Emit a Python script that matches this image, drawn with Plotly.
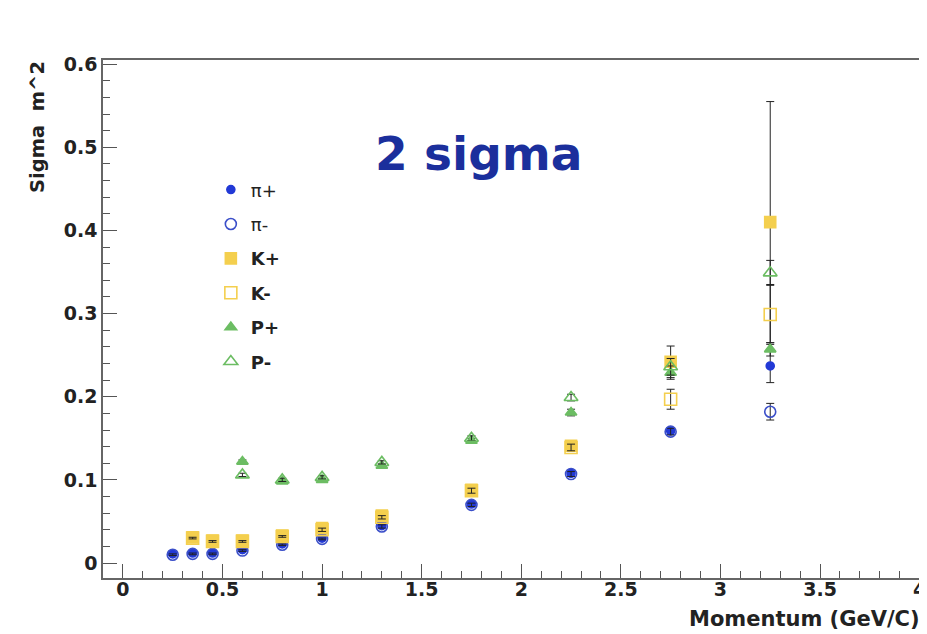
import plotly.graph_objects as go

# momentum bins (GeV/C)
p_pi = [0.25, 0.35, 0.45, 0.6, 0.8, 1.0, 1.3, 1.75, 2.25, 2.75, 3.25]
p_k = [0.35, 0.45, 0.6, 0.8, 1.0, 1.3, 1.75, 2.25, 2.75, 3.25]
p_p = [0.6, 0.8, 1.0, 1.3, 1.75, 2.25, 2.75, 3.25]

pi_plus = [0.011, 0.012, 0.012, 0.016, 0.023, 0.030, 0.045, 0.071, 0.108, 0.159, 0.237]
pi_plus_err = [0.001, 0.001, 0.001, 0.001, 0.001, 0.001, 0.002, 0.002, 0.003, 0.004, 0.020]
pi_minus = [0.010, 0.011, 0.011, 0.015, 0.022, 0.029, 0.044, 0.070, 0.107, 0.158, 0.182]
pi_minus_err = [0.001, 0.001, 0.001, 0.001, 0.001, 0.001, 0.002, 0.002, 0.003, 0.004, 0.010]

k_plus = [0.031, 0.027, 0.027, 0.033, 0.042, 0.057, 0.088, 0.141, 0.242, 0.410]
k_plus_err = [0.001, 0.001, 0.001, 0.001, 0.002, 0.002, 0.003, 0.004, 0.019, 0.145]
k_minus = [0.030, 0.026, 0.026, 0.032, 0.040, 0.055, 0.087, 0.139, 0.197, 0.299]
k_minus_err = [0.001, 0.001, 0.001, 0.001, 0.002, 0.002, 0.003, 0.004, 0.012, 0.036]

p_plus = [0.122, 0.098, 0.100, 0.117, 0.147, 0.181, 0.229, 0.257]
p_plus_err = [0.002, 0.002, 0.002, 0.002, 0.003, 0.004, 0.008, 0.008]
p_minus = [0.106, 0.100, 0.103, 0.121, 0.150, 0.199, 0.236, 0.349]
p_minus_err = [0.002, 0.002, 0.002, 0.002, 0.003, 0.004, 0.010, 0.015]

series_names = ["\u03c0+", "\u03c0-", "<b>K+</b>", "<b>K-</b>", "<b>P+</b>", "<b>P-</b>"]

BLUE = "#2239d6"
BLUE_OPEN = "#3b4fc9"
YELLOW = "#f4cf4e"
GREEN = "#6cbd63"
FONT = "DejaVu Sans, Liberation Sans, Arial, sans-serif"

fig = go.Figure()

def add(x, y, err, name, symbol, color, size, group):
    fig.add_trace(go.Scatter(
        x=x, y=y, mode="markers", name=name, legendgroup=group,
        marker=dict(symbol=symbol, color=color, size=size,
                    line=dict(color=color, width=1.6)),
        error_y=dict(type="data", array=err, visible=True,
                     color="#222222", thickness=1, width=4),
    ))

add(p_pi, pi_plus, pi_plus_err, series_names[0], "circle", BLUE, 8, "a")
add(p_pi, pi_minus, pi_minus_err, series_names[1], "circle-open", BLUE_OPEN, 11, "b")
add(p_k, k_plus, k_plus_err, series_names[2], "square", YELLOW, 11, "c")
add(p_k, k_minus, k_minus_err, series_names[3], "square-open", YELLOW, 12, "d")
add(p_p, p_plus, p_plus_err, series_names[4], "triangle-up", GREEN, 10, "e")
add(p_p, p_minus, p_minus_err, series_names[5], "triangle-up-open", GREEN, 12, "f")

axis_font = dict(family=FONT, size=19, color="#222222", weight="bold")

fig.update_xaxes(
    range=[-0.1, 4.002], tick0=0, dtick=0.5, ticks="inside", ticklen=14,
    tickwidth=1, tickcolor="#555555", ticklabelstandoff=-7,
    minor=dict(dtick=0.1, ticks="inside", ticklen=7, tickcolor="#555555", showgrid=False),
    showline=True, linecolor="#666666", linewidth=1.5, mirror=True,
    showgrid=False, zeroline=False, tickfont=axis_font, automargin=False,
)
fig.update_yaxes(
    range=[-0.018, 0.605], tick0=0, dtick=0.1, ticks="inside", ticklen=14,
    tickwidth=1, tickcolor="#555555",
    minor=dict(dtick=0.02, ticks="inside", ticklen=7, tickcolor="#555555", showgrid=False),
    showline=True, linecolor="#666666", linewidth=1.5, mirror=True,
    showgrid=False, zeroline=False, tickfont=axis_font, automargin=False,
)

# the page body adds an 8px offset; size/margins compensate for it
fig.update_layout(
    width=919, height=626,
    margin=dict(l=95, r=7, t=52, b=56),
    paper_bgcolor="white", plot_bgcolor="white",
    showlegend=True,
    legend=dict(x=0.132, y=0.785, xanchor="left", yanchor="top",
                bgcolor="white", borderwidth=0, tracegroupgap=8,
                font=dict(family=FONT, size=18, color="#222222")),
    annotations=[
        dict(text="<b>2 sigma</b>", x=0.459, y=0.82, xref="paper", yref="paper",
             xanchor="center", yanchor="middle", showarrow=False,
             font=dict(family=FONT, size=47, color="#1b2f9c")),
        dict(text="<b>Sigma  m^2</b>", x=-0.08, y=0.87, xref="paper", yref="paper",
             xanchor="center", yanchor="middle", textangle=-90, showarrow=False,
             font=dict(family=FONT, size=19.5, color="#222222")),
        dict(text="<b>Momentum (GeV/C)</b>", x=1.002, y=-0.079, xref="paper", yref="paper",
             xanchor="right", yanchor="middle", showarrow=False,
             font=dict(family=FONT, size=21, color="#222222")),
    ],
)

fig.write_html("out.html")
